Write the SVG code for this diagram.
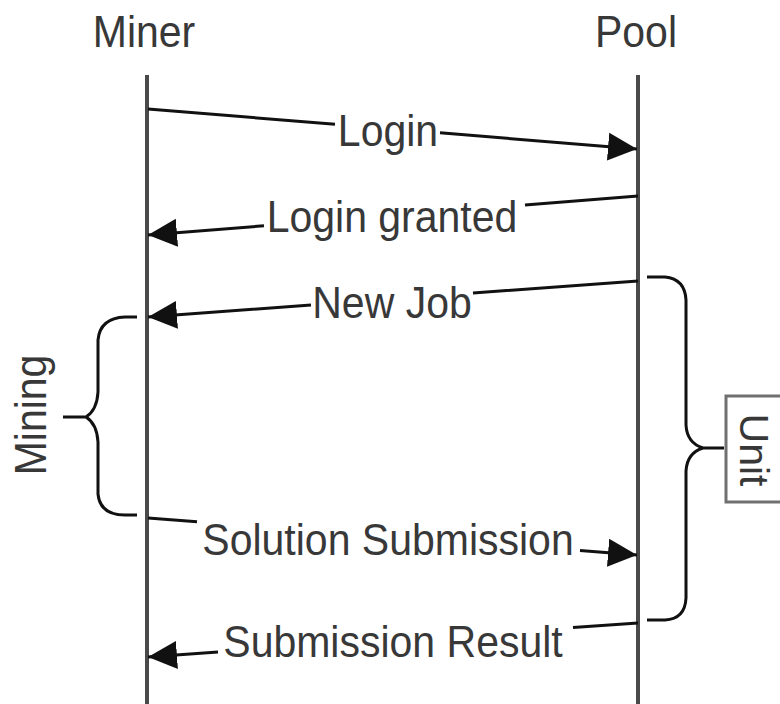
<svg xmlns="http://www.w3.org/2000/svg" width="780" height="704" viewBox="0 0 780 704">
<defs>
<style>
text{font-family:"Liberation Sans",Arial,sans-serif;font-size:41px;fill:#383838}
.life{stroke:#4a4a4a;stroke-width:4;fill:none}
.msg{stroke:#111;stroke-width:3;fill:none;marker-end:url(#ah)}
.brace{stroke:#111;stroke-width:3;fill:none}
</style>
<marker id="ah" markerUnits="userSpaceOnUse" markerWidth="32" markerHeight="32" refX="29" refY="15" orient="auto">
<path d="M0,1 L29,15 L0,29 Z" fill="#111"/>
</marker>
</defs>
<rect width="780" height="704" fill="#fff"/>
<g id="miner">
<text transform="translate(144,47) scale(1,1.08)" text-anchor="middle">Miner</text>
<line class="life" x1="147" y1="75" x2="147" y2="704"/>
</g>
<g id="pool">
<text transform="translate(636,47) scale(1,1.08)" text-anchor="middle">Pool</text>
<line class="life" x1="638" y1="75" x2="638" y2="704"/>
</g>
<g id="connectors">
<path class="msg" d="M148,109 L335,124.3 M440,132.8 L637,149"/>
<path class="msg" d="M638,196 L525,205 M264,225.8 L148,235"/>
<path class="msg" d="M638,281 L473,293 M311,305 L148,317"/>
<path class="msg" d="M148,518 L197,521.7 M580,550.6 L637,555"/>
<path class="msg" d="M638,623 L573,627.5 M218,652 L148,657"/>
</g>
<g id="labels">
<text transform="translate(388,146) scale(1,1.08)" text-anchor="middle">Login</text>
<text transform="translate(392,232) scale(1,1.08)" text-anchor="middle">Login granted</text>
<text transform="translate(392,318) scale(1,1.08)" text-anchor="middle">New Job</text>
<text transform="translate(388,555) scale(1,1.08)" text-anchor="middle">Solution Submission</text>
<text transform="translate(393,657) scale(1,1.08)" text-anchor="middle">Submission Result</text>
</g>
<g id="mining">
<path class="brace" d="M137,317 L125,317 Q100,318 98,340 L98,392 Q97,410 86,417 L63,417 M86,417 Q97,424 98,442 L98,494 Q100,515 125,515 L137,515"/>
<text transform="translate(46,415) rotate(-90) scale(1,1.08)" text-anchor="middle">Mining</text>
</g>
<g id="unit">
<path class="brace" d="M647,277 L665,277 Q685,279 686,300 L686,425 Q687,443 703,448 L724,448 M703,448 Q687,453 686,471 L686,598 Q685,619 665,620 L647,620"/>
<rect x="726" y="396" width="100" height="106" fill="#fff" stroke="#707070" stroke-width="3"/>
<text transform="translate(740,450) rotate(90)" text-anchor="middle" font-size="40">Unit</text>
</g>
</svg>
